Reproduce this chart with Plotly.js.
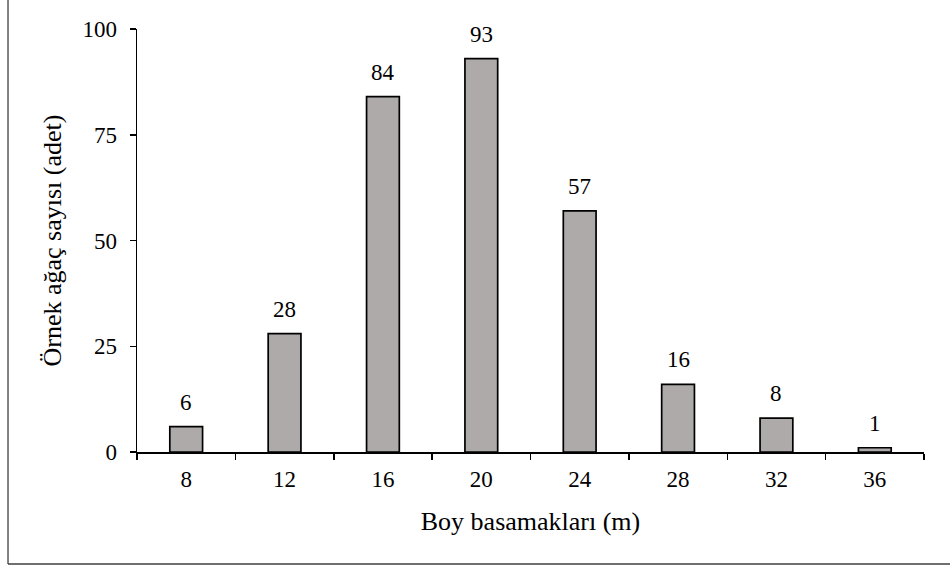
<!DOCTYPE html>
<html>
<head>
<meta charset="utf-8">
<script src="https://cdn.plot.ly/plotly-3.0.1.min.js"></script>
<style>html,body{margin:0;padding:0;background:#fff;}#chart{width:950px;height:571px;}</style>
</head>
<body>
<div id="chart"></div>
<script>
const categories = ['8', '12', '16', '20', '24', '28', '32', '36'];
const counts = [6, 28, 84, 93, 57, 16, 8, 1];
const yTickVals = [0, 25, 50, 75, 100];
const xTitle = 'Boy basamakları (m)';
const yTitle = 'Örnek ağaç sayısı (adet)';

const FONT = 'Liberation Serif, Times New Roman, serif';

const trace = {
  type: 'bar',
  x: categories,
  y: counts,
  marker: {color: '#AEAAAA', line: {color: '#000000', width: 1.7}},
  hoverinfo: 'x+y'
};

// category axis: annotation positions are category indices
const labels = categories.map((c, i) => ({
  x: i, y: counts[i], xref: 'x', yref: 'y',
  text: String(counts[i]), showarrow: false,
  yanchor: 'bottom', yshift: 10,
  font: {family: FONT, size: 23, color: '#000'}
}));

const layout = {
  width: 950, height: 571,
  margin: {l: 137, r: 26, t: 29, b: 119},
  paper_bgcolor: '#fff', plot_bgcolor: '#fff',
  font: {family: FONT, size: 23, color: '#000'},
  showlegend: false,
  bargap: 0.667,
  xaxis: {
    type: 'category', range: [-0.5, categories.length - 0.5], autorange: false,
    showline: true, linecolor: '#000', linewidth: 1.5,
    ticks: 'outside', tickson: 'boundaries', ticklen: 6, tickwidth: 1.5, tickcolor: '#000',
    tickangle: 0, ticklabelstandoff: 6,
    showgrid: false, zeroline: false,
    tickfont: {family: FONT, size: 23, color: '#000'},
    title: {text: xTitle, font: {family: FONT, size: 26, color: '#000'}, standoff: 20}
  },
  yaxis: {
    range: [0, 100], autorange: false, tickvals: yTickVals,
    showline: true, linecolor: '#000', linewidth: 1.5,
    ticks: 'outside', ticklen: 6, tickwidth: 1.5, tickcolor: '#000',
    ticklabelstandoff: 8,
    showgrid: false, zeroline: false,
    tickfont: {family: FONT, size: 23, color: '#000'},
    title: {text: yTitle, font: {family: FONT, size: 26, color: '#000'}, standoff: 13}
  },
  annotations: labels,
  shapes: [
    {type: 'line', xref: 'paper', yref: 'paper', x0: -0.1639, x1: -0.1639, y0: -0.2648, y1: 1.08,
     line: {color: '#3f3f3f', width: 1.3}},
    {type: 'line', xref: 'paper', yref: 'paper', x0: -0.1639, x1: 1.04, y0: -0.2648, y1: -0.2648,
     line: {color: '#3f3f3f', width: 1.3}}
  ]
};

Plotly.newPlot('chart', [trace], layout, {displayModeBar: false, staticPlot: true});
</script>
</body>
</html>
